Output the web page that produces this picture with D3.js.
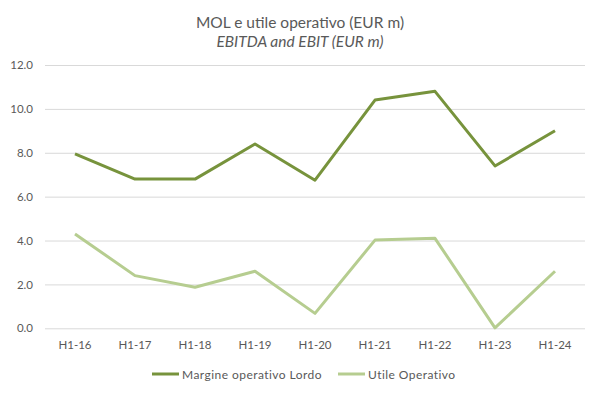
<!DOCTYPE html>
<html><head><meta charset="utf-8">
<script src="https://cdn.jsdelivr.net/npm/d3@7"></script>
<style>body{margin:0;background:#fff}svg{display:block;font-family:Lato,"Open Sans",sans-serif}</style>
</head><body>
<svg id="c" width="599" height="394"></svg>
<script>
const categories=["H1-16","H1-17","H1-18","H1-19","H1-20","H1-21","H1-22","H1-23","H1-24"];
const mol=[7.95,6.8,6.8,8.4,6.75,10.4,10.8,7.4,9.0];
const ebit=[4.3,2.4,1.87,2.6,0.68,4.02,4.1,0.02,2.6];
const yTicks=[0,2,4,6,8,10,12];
const seriesNames=["Margine operativo Lordo","Utile Operativo"];
const colors=["#77933C","#B6CD90"];

const svg=d3.select("#c");
const x=d3.scaleBand().domain(categories).range([45,585]);
const y=d3.scaleLinear().domain([0,12]).range([328.3,65]);

svg.append("text").attr("x",300).attr("y",28).attr("text-anchor","middle").attr("font-size",15.5).attr("fill","#595959").text("MOL e utile operativo (EUR m)");
svg.append("text").attr("x",300).attr("y",47).attr("text-anchor","middle").attr("font-size",15.5).attr("font-style","italic").attr("fill","#595959").text("EBITDA and EBIT (EUR m)");

const ya=svg.append("g").attr("transform","translate(45,0)").call(d3.axisLeft(y).tickValues(yTicks).tickSize(-540).tickFormat(d3.format(".1f")).tickPadding(12));
ya.select(".domain").remove();
ya.selectAll("line").attr("stroke","#D9D9D9");
ya.selectAll("text").attr("font-size",11.5).attr("fill","#595959").attr("font-family","Lato,sans-serif");

const xa=svg.append("g").attr("transform","translate(0,328.3)").call(d3.axisBottom(x).tickSize(0).tickPadding(13));
xa.select(".domain").remove();
xa.selectAll("text").attr("font-size",11.5).attr("fill","#595959").attr("font-family","Lato,sans-serif");

const line=d3.line().x((d,i)=>x(categories[i])+x.bandwidth()/2).y(d=>y(d));
[mol,ebit].forEach((s,k)=>{
  svg.append("path").datum(s).attr("d",line).attr("fill","none").attr("stroke",colors[k]).attr("stroke-width",3).attr("stroke-linejoin","round");
});

const lg=[[152,seriesNames[0]],[338,seriesNames[1]]];
lg.forEach((l,k)=>{
  svg.append("line").attr("x1",l[0]).attr("x2",l[0]+27).attr("y1",374).attr("y2",374).attr("stroke",colors[k]).attr("stroke-width",3);
  svg.append("text").attr("x",l[0]+30).attr("y",378.5).attr("font-size",12).attr("letter-spacing",0.45).attr("fill","#595959").text(l[1]);
});
</script>
</body></html>
